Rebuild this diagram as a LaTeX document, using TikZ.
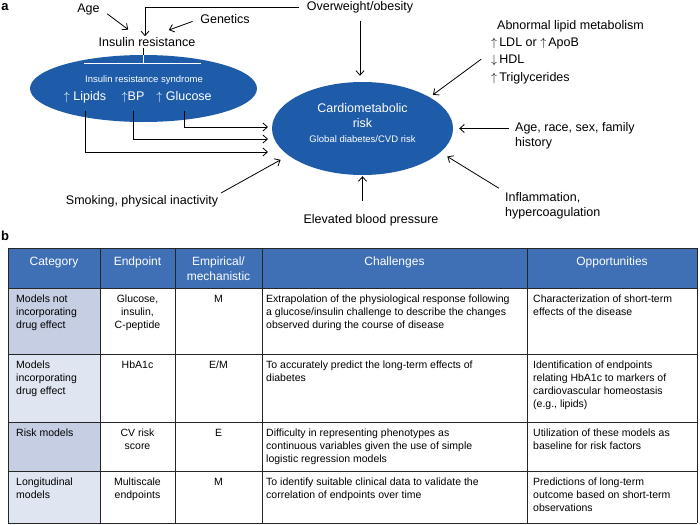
\documentclass[tikz,border=0pt]{standalone}
\usepackage{fontspec}
\setmainfont{Liberation Sans}
\usetikzlibrary{shapes.geometric, positioning, arrows.meta}
\definecolor{ellblue}{RGB}{30,91,168}
\definecolor{headblue}{RGB}{63,111,181}
\definecolor{catdark}{RGB}{198,206,227}
\definecolor{catlight}{RGB}{223,230,241}
\newcommand{\up}{$\uparrow$}
\newcommand{\down}{$\downarrow$}
\newcommand{\lblfont}{\fontsize{12.5}{15}\selectfont}
\newcommand{\smlfont}{\fontsize{9.5}{11}\selectfont}
\newcommand{\tabfont}{\fontsize{10.5}{13}\selectfont}
\newcommand{\headfont}{\fontsize{12}{14.5}\selectfont}
\newcommand{\tabL}{8}
\newcommand{\tabR}{697}

\begin{document}
\begin{tikzpicture}[x=1pt, y=-1pt,
    lbl/.style={font=\lblfont, inner sep=1pt},
    blob/.style={ellipse, fill=ellblue, inner sep=0pt, text=white},
    arr/.style={-{Straight Barb[length=4.5pt, width=8pt]}, line width=0.8pt},
    head/.style={anchor=north, text=white, font=\headfont, align=center, inner sep=0pt},
    cell/.style={anchor=north west, font=\tabfont, align=left, inner sep=0pt},
    ccell/.style={anchor=north, font=\tabfont, align=center, inner sep=0pt},
    tline/.style={draw=black!85, line width=0.9pt}]
\useasboundingbox (0,0) rectangle (700,524);

% part a
\node[font=\bfseries\fontsize{13}{15}\selectfont, inner sep=0pt] at (5,7) (pa) {a};
\node[lbl] at (88.5,9) (age) {Age};
\node[lbl] at (225,19) (gen) {Genetics};
\node[lbl] at (360,7.5) (obes) {Overweight/obesity};
\node[lbl] at (147,42) (ir) {Insulin resistance};

\node[blob, minimum width=227pt, minimum height=67pt] at (143.5,88.5) (irs) {};
\node[text=white, font=\smlfont, inner sep=0pt] at (144,80) (irslbl) {Insulin resistance syndrome};
\node[lbl, text=white] at (85,97) (lip) {\up\ Lipids};
\node[lbl, text=white] at (133,97) (bp) {\up BP};
\node[lbl, text=white] at (184,97) (glu) {\up\ Glucose};

\node[blob, minimum width=181pt, minimum height=93pt, font=\lblfont, align=center] at (362.5,128.5) (cmr)
    {Cardiometabolic\\risk\\{\smlfont Global diabetes/CVD risk}\\[-4pt]};

\node[lbl, anchor=north west, align=left, inner sep=0pt, font=\fontsize{12.5}{17.3}\selectfont] at (491,20) (lipid)
    {\hspace{6pt}Abnormal lipid metabolism\\\up\,LDL or \up\,ApoB\\\down\,HDL\\\up\,Triglycerides};
\node[lbl, anchor=west, align=left, inner sep=0pt] at (515,136) (agers) {Age, race, sex, family\\history};
\node[lbl, anchor=west, align=left, inner sep=0pt] at (505,205.5) (infl) {Inflammation,\\hypercoagulation};
\node[lbl] at (371,220) (ebp) {Elevated blood pressure};
\node[lbl] at (142,201) (smk) {Smoking, physical inactivity};

\coordinate (t1) at (268,127);
\coordinate (t2) at (268,139);
\coordinate (t3) at (268,152);

% connectors
\draw[arr, shorten <=8pt, shorten >=11pt] (age.east) -- ([xshift=-10pt]ir.north);
\draw[arr, shorten <=7pt, shorten >=18pt] (gen.west) -- ([xshift=5pt]ir.north);
\draw[arr, shorten <=7pt] (obes.west) -| ([xshift=-2pt]ir.north);
\draw[line width=0.8pt] (ir.south -| irs.north) -- (irs.north);
\draw[white, line width=0.8pt] (irs.north) -- ++(0,8);
\draw[white, line width=0.8pt] ([shift={(-60,-25)}]irs.center) -- ([shift={(57,-25)}]irs.center);
\draw[arr, shorten <=7pt] (glu.south) |- (t1);
\draw[arr, shorten <=7pt] (bp.south) |- (t2);
\draw[arr, shorten <=7pt] (lip.south) |- (t3);
\draw[arr, shorten <=2pt, shorten >=9pt] (smk.north east) -- (cmr.200);
\draw[arr, shorten <=6pt, shorten >=6pt] (obes.south) -- (obes.south |- cmr.north);
\draw[arr, shorten <=12pt, shorten >=4pt] (lipid.west) -- (cmr.25);
\draw[arr, shorten <=6pt, shorten >=6pt] ([yshift=7.5pt]agers.west) -- (cmr.east);
\draw[arr, shorten <=7pt, shorten >=8pt] (infl.north west) -- (cmr.-17);
\draw[arr, shorten <=12pt, shorten >=1pt] (cmr.south |- ebp.north) -- (cmr.south);

% part b
\node[font=\bfseries\fontsize{13}{15}\selectfont, inner sep=0pt] at (5,236) (pb) {b};
\fill[headblue] (\tabL,248) rectangle (\tabR,288);
\fill[catdark] (\tabL,288) rectangle (100,354);
\fill[catlight] (\tabL,354) rectangle (100,422);
\fill[catdark] (\tabL,422) rectangle (100,471);
\fill[catlight] (\tabL,471) rectangle (100,523);
\foreach \x in {8,100,175,262,527,697}
    \draw[tline] (\x,248) -- (\x,523);
\foreach \y in {248,288,354,422,471,523}
    \draw[tline] (\tabL,\y) -- (\tabR,\y);

\node[head] at (54,257) (h1) {Category};
\node[head] at (137.5,257) (h2) {Endpoint};
\node[head] at (218.5,257) (h3) {Empirical/\\mechanistic};
\node[head] at (394.5,257) (h4) {Challenges};
\node[head] at (612,257) (h5) {Opportunities};

\node[cell] at (16,295) (c11) {Models not\\incorporating\\drug effect};
\node[ccell] at (137.5,295) (c12) {Glucose,\\insulin,\\C-peptide};
\node[ccell] at (218.5,295) (c13) {M};
\node[cell] at (266,295) (c14) {Extrapolation of the physiological response following\\a glucose/insulin challenge to describe the changes\\observed during the course of disease};
\node[cell] at (533,295) (c15) {Characterization of short-term\\effects of the disease};

\node[cell] at (16,361) (c21) {Models\\incorporating\\drug effect};
\node[ccell] at (137.5,361) (c22) {HbA1c};
\node[ccell] at (218.5,361) (c23) {E/M};
\node[cell] at (266,361) (c24) {To accurately predict the long-term effects of\\diabetes};
\node[cell] at (533,361) (c25) {Identification of endpoints\\relating HbA1c to markers of\\cardiovascular homeostasis\\(e.g., lipids)};

\node[cell] at (16,429) (c31) {Risk models};
\node[ccell] at (137.5,429) (c32) {CV risk\\score};
\node[ccell] at (218.5,429) (c33) {E};
\node[cell] at (266,429) (c34) {Difficulty in representing phenotypes as\\continuous variables given the use of simple\\logistic regression models};
\node[cell] at (533,429) (c35) {Utilization of these models as\\baseline for risk factors};

\node[cell] at (16,478) (c41) {Longitudinal\\models};
\node[ccell] at (137.5,478) (c42) {Multiscale\\endpoints};
\node[ccell] at (218.5,478) (c43) {M};
\node[cell] at (266,478) (c44) {To identify suitable clinical data to validate the\\correlation of endpoints over time};
\node[cell] at (533,478) (c45) {Predictions of long-term\\outcome based on short-term\\observations};
\end{tikzpicture}
\end{document}
